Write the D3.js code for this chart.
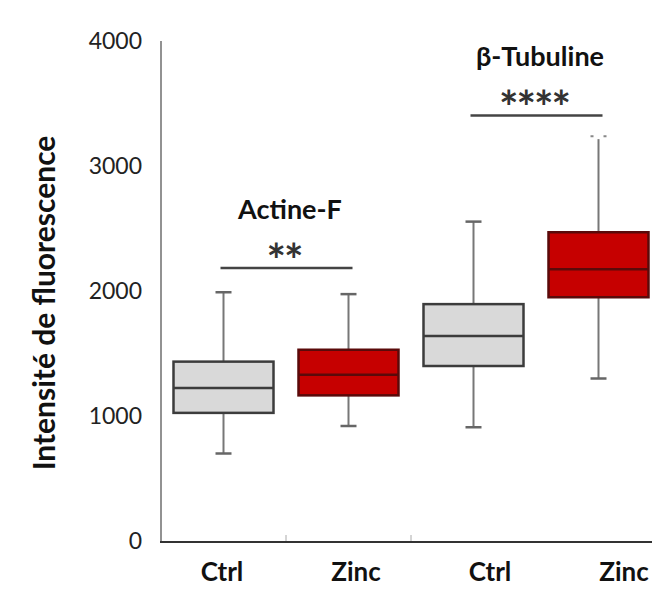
<!DOCTYPE html>
<html>
<head>
<meta charset="utf-8">
<script src="https://cdn.jsdelivr.net/npm/d3@7"></script>
<style>
  body { margin: 0; background: #fff; }
  svg { display: block; font-family: Lato, "Open Sans", sans-serif; }
</style>
</head>
<body>
<svg></svg>
<script>
const width = 652,
  height = 589;

// categories (Actine-F Ctrl/Zinc, β-Tubuline Ctrl/Zinc)
const groups = ["a-ctrl", "a-zinc", "t-ctrl", "t-zinc"];
const labels = ["Ctrl", "Zinc", "Ctrl", "Zinc"];
const treatment = ["ctrl", "zinc", "ctrl", "zinc"];
// box stats
const whiskerLow = [700, 920, 910, 1300];
const q1 = [1025, 1165, 1400, 1950];
const median = [1225, 1330, 1640, 2175];
const q3 = [1435, 1530, 1895, 2470];
const whiskerHigh = [1990, 1975, 2555, 3215];
const yTicks = [0, 1000, 2000, 3000, 4000];

// significance brackets
const brackets = [
  { from: "a-ctrl", to: "a-zinc", y: 2185, stars: "**", name: "Actine-F" },
  { from: "t-ctrl", to: "t-zinc", y: 3405, stars: "****", name: "β-Tubuline" }
];

const svg = d3.select("svg").attr("width", width).attr("height", height);

const y = d3.scaleLinear().domain([0, 4000]).range([541, 41]);
const x = d3.scaleBand().domain(groups).range([161, 661])
  .paddingInner(0.2).paddingOuter(0.1);
const xLab = d3.scaleBand().domain(groups).range([155, 691]);

const data = groups.map((g, i) => ({
  g: g,
  t: treatment[i],
  lo: whiskerLow[i],
  q1: q1[i],
  med: median[i],
  q3: q3[i],
  hi: whiskerHigh[i]
}));

/////////////////////////// AXES ///////////////////////////
svg.append("line")
  .attr("x1", 161).attr("x2", 161)
  .attr("y1", y(4000)).attr("y2", y(0))
  .attr("stroke", "#6e6e6e").attr("stroke-width", 1.5);

svg.selectAll(".ytick")
  .data(yTicks)
  .enter()
  .append("text")
  .attr("class", "ytick")
  .attr("x", 142)
  .attr("y", d => y(d))
  .attr("dy", "0.35em")
  .attr("text-anchor", "end")
  .attr("font-size", 23)
  .attr("fill", "#222")
  .text(d => d);

svg.append("line")
  .attr("x1", 160).attr("x2", width)
  .attr("y1", y(0) + 1).attr("y2", y(0) + 1)
  .attr("stroke", "#333").attr("stroke-width", 2);

// small ticks between the first categories
svg.selectAll(".xtick")
  .data([1, 2])
  .enter()
  .append("line")
  .attr("x1", d => 161 + x.step() * d)
  .attr("x2", d => 161 + x.step() * d)
  .attr("y1", y(0) - 6)
  .attr("y2", y(0))
  .attr("stroke", "#aaa");

svg.selectAll(".xlab")
  .data(groups)
  .enter()
  .append("text")
  .attr("x", d => xLab(d) + xLab.bandwidth() / 2)
  .attr("y", 581)
  .attr("text-anchor", "middle")
  .attr("font-size", 26)
  .attr("font-weight", "bold")
  .attr("fill", "#111")
  .text((d, i) => labels[i]);

svg.append("text")
  .attr("transform", "translate(55,303) rotate(-90)")
  .attr("text-anchor", "middle")
  .attr("font-size", 30)
  .attr("font-weight", "bold")
  .attr("fill", "#111")
  .text("Intensité de fluorescence");

/////////////////////////// BOXES ///////////////////////////
const cx = d => x(d.g) + x.bandwidth() / 2;
const box = svg.selectAll(".box").data(data).enter().append("g");

box.append("line")
  .attr("x1", cx).attr("x2", cx)
  .attr("y1", d => y(d.hi)).attr("y2", d => y(d.lo))
  .attr("stroke", "#777").attr("stroke-width", 2);

// whisker caps
box.filter(d => d.g !== "t-zinc").append("line")
  .attr("x1", d => cx(d) - 8).attr("x2", d => cx(d) + 8)
  .attr("y1", d => y(d.hi)).attr("y2", d => y(d.hi))
  .attr("stroke", "#666").attr("stroke-width", 2.5);
box.append("line")
  .attr("x1", d => cx(d) - 8).attr("x2", d => cx(d) + 8)
  .attr("y1", d => y(d.lo)).attr("y2", d => y(d.lo))
  .attr("stroke", "#666").attr("stroke-width", 2.5);
box.filter(d => d.g === "t-zinc").append("line")
  .attr("x1", d => cx(d) - 8).attr("x2", d => cx(d) + 8)
  .attr("y1", d => y(d.hi) - 3).attr("y2", d => y(d.hi) - 3)
  .attr("stroke", "#888").attr("stroke-width", 2)
  .attr("stroke-dasharray", "3,10");

box.append("rect")
  .attr("x", d => x(d.g))
  .attr("width", x.bandwidth())
  .attr("y", d => y(d.q3))
  .attr("height", d => y(d.q1) - y(d.q3))
  .attr("fill", d => (d.t === "zinc" ? "#c60000" : "#d9d9d9"))
  .attr("stroke", d => (d.t === "zinc" ? "#5a0a0a" : "#3c3c3c"))
  .attr("stroke-width", 2.5);

box.append("line")
  .attr("x1", d => x(d.g)).attr("x2", d => x(d.g) + x.bandwidth())
  .attr("y1", d => y(d.med)).attr("y2", d => y(d.med))
  .attr("stroke", d => (d.t === "zinc" ? "#5a0a0a" : "#3c3c3c"))
  .attr("stroke-width", 2.5);

/////////////////////////// SIGNIFICANCE ///////////////////////////
const br = svg.selectAll(".br").data(brackets).enter().append("g");
const mid = d => (x(d.from) + x(d.to) + x.bandwidth()) / 2;

br.append("line")
  .attr("x1", d => x(d.from) + x.bandwidth() / 2 - 3)
  .attr("x2", d => x(d.to) + x.bandwidth() / 2 + 4)
  .attr("y1", d => y(d.y)).attr("y2", d => y(d.y))
  .attr("stroke", "#444").attr("stroke-width", 2.5);

br.append("text")
  .attr("x", d => mid(d) - 2)
  .attr("y", d => y(d.y) + 9)
  .attr("text-anchor", "middle")
  .attr("font-size", 46)
  .attr("font-weight", "bold")
  .attr("letter-spacing", -2)
  .attr("fill", "#333")
  .text(d => d.stars);

br.append("text")
  .attr("x", d => mid(d) + 4)
  .attr("y", d => y(d.y) - 49)
  .attr("text-anchor", "middle")
  .attr("font-size", 27)
  .attr("font-weight", "bold")
  .attr("fill", "#111")
  .text(d => d.name);
</script>
</body>
</html>
